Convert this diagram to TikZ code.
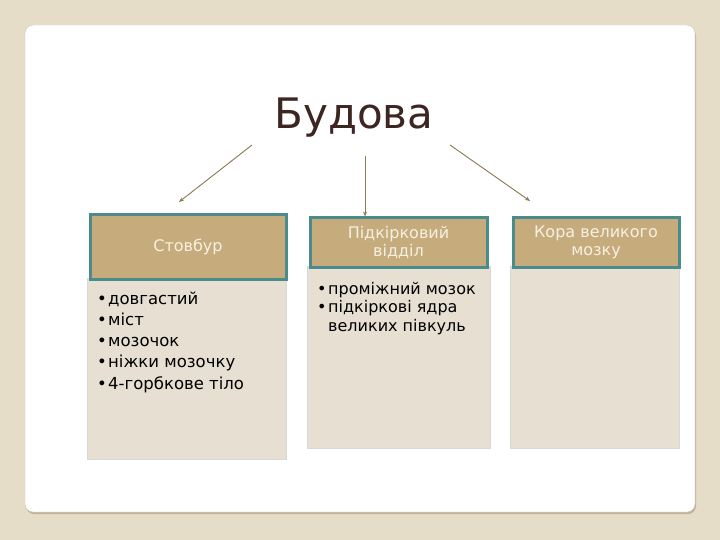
\documentclass[tikz,border=0pt]{standalone}
\usepackage{fontspec}
\setmainfont{DejaVu Sans}
\usetikzlibrary{arrows.meta}
\definecolor{pagebg}{HTML}{E6DDC8}
\definecolor{panelshade}{HTML}{C2B398}
\definecolor{panelline}{HTML}{C9C4BA}
\definecolor{headfill}{HTML}{C6AC7C}
\definecolor{headline}{HTML}{4C8B8C}
\definecolor{headtext}{HTML}{F6F0E2}
\definecolor{bodyfill}{HTML}{E6DFD2}
\definecolor{bodyline}{HTML}{D6DAD7}
\definecolor{titlecol}{HTML}{3D2521}
\definecolor{arrowcol}{HTML}{8A7A4F}
\newcommand{\bul}{\makebox[11pt][l]{•}}

\begin{document}
\begin{tikzpicture}[x=1pt,y=-1pt,
    headbox/.style={draw=headline,line width=3pt,fill=headfill,text=headtext,anchor=north west,
      inner sep=0pt,align=center,font=\fontsize{16}{18}\selectfont},
    bodybox/.style={draw=bodyline,line width=1pt,fill=bodyfill,anchor=north west,inner sep=0pt},
    listtext/.style={anchor=base west,inner sep=0pt,align=left,text=black},
    link/.style={draw=arrowcol,line width=0.9pt,-{Stealth[length=5pt,width=4pt]}}]
  \useasboundingbox (0,0) rectangle (720,540);
  \fill[pagebg] (0,0) rectangle (720,540);

  % panel
  \fill[panelshade,rounded corners=8pt] (26,28) rectangle (696,514);
  \draw[panelline,fill=white,rounded corners=8pt] (25,25) rectangle (695,512);

  % title
  \node[anchor=base,inner sep=0pt,text=titlecol,font=\fontsize{42}{50}\selectfont] (title) at (354,129) {Будова};

  % bodies
  \node[bodybox,minimum width=199pt,minimum height=181pt] (stemBody) at (87,278) {};
  \node[bodybox,minimum width=183pt,minimum height=182pt] (subBody) at (307,266) {};
  \node[bodybox,minimum width=169pt,minimum height=182pt] (cortexBody) at (510,266) {};

  % headers
  \node[headbox,minimum width=196pt,minimum height=64pt] (stemHead) at (88.5,213.5) {Стовбур};
  \node[headbox,minimum width=177pt,minimum height=49pt] (subHead) at (308.5,216.5) {Підкірковий\\відділ};
  \node[headbox,minimum width=166pt,minimum height=49pt] (cortexHead) at (511.5,216.5) {Кора великого\\мозку};

  % lists (placed at the baseline of the last line)
  \node[listtext,font=\fontsize{16.5}{21.25}\selectfont] (stemList) at (97,389)
    {\bul довгастий\\ \bul міст\\ \bul мозочок\\ \bul ніжки мозочку\\ \bul 4-горбкове тіло};
  \node[listtext,font=\fontsize{16}{18.5}\selectfont] (subList) at (317,331)
    {\bul проміжний мозок\\ \bul підкіркові ядра\\ \hspace*{11pt}великих півкуль};

  % arrows
  \coordinate (leftStart) at (252,145);
  \coordinate (leftEnd) at (179,202);
  \coordinate (midStart) at (365,156);
  \coordinate (rightStart) at (450,145);
  \coordinate (rightEnd) at (530,201);
  \draw[link] (leftStart) -- (leftEnd);
  \draw[link] (midStart) -- (midStart |- subHead.north);
  \draw[link] (rightStart) -- (rightEnd);
\end{tikzpicture}
\end{document}
